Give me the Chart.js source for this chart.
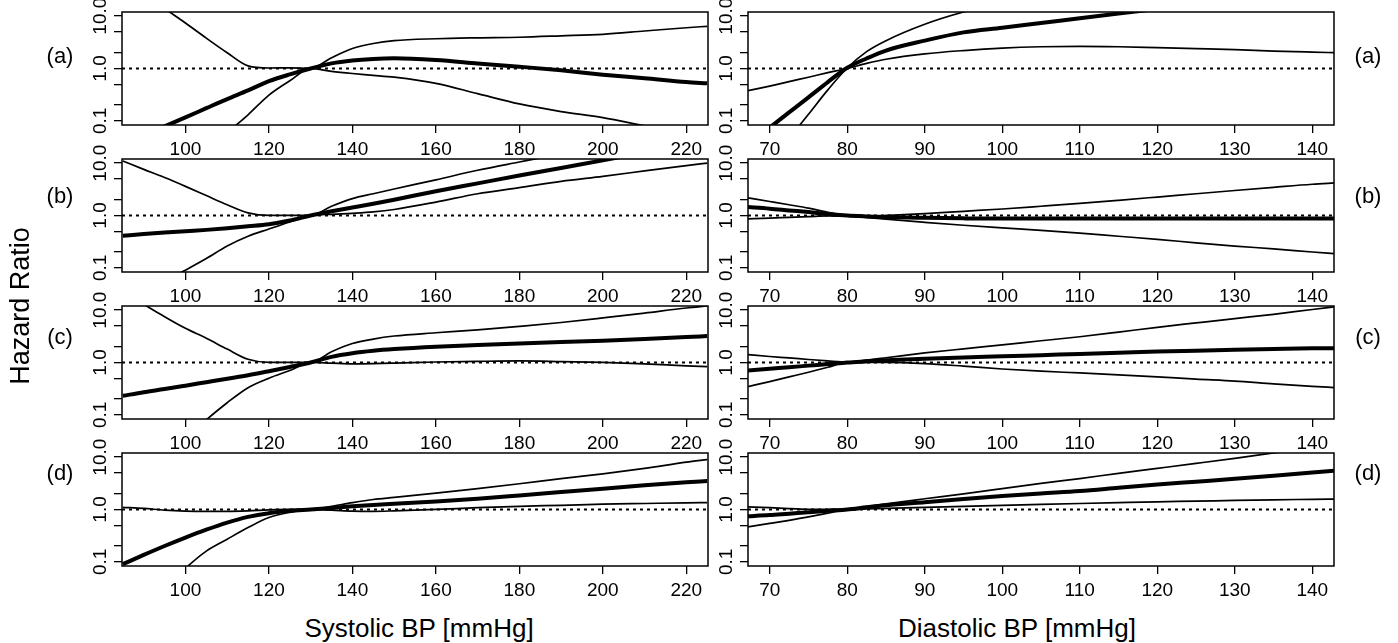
<!DOCTYPE html>
<html>
<head>
<meta charset="utf-8">
<script src="https://cdn.jsdelivr.net/npm/chart.js@4.4.1/dist/chart.umd.min.js"></script>
<style>
  body { margin: 0; background: #fff; }
  #page { position: relative; width: 1398px; height: 643px; overflow: hidden;
          font-family: "Liberation Sans", Arial, sans-serif; color: #000; background: #fff; }
  #page canvas { position: absolute; }
  .lbl { position: absolute; line-height: 1; white-space: nowrap; transform: translate(-50%, -50%); }
  .panel { font-size: 22px; }
  .title { font-size: 26px; }
  .ytitle { font-size: 27px; }
</style>
</head>
<body>
<div id="page"></div>
<script>
// x values (mmHg)
const sysBP = [85, 90, 95, 100, 105, 110, 115, 120, 125, 130, 135, 140, 145, 150, 160, 170, 180, 190, 200, 210, 220, 225];
const diaBP = [67, 70, 72.5, 75, 77.5, 80, 82.5, 85, 90, 95, 100, 105, 110, 115, 120, 125, 130, 135, 140, 143];

const sysTicks = [100, 120, 140, 160, 180, 200, 220];
const diaTicks = [70, 80, 90, 100, 110, 120, 130, 140];
const sysRange = [84.8, 225.2];
const diaRange = [67.2, 142.8];

const hrTicks = [0.1, 0.2, 0.5, 1, 2, 5, 10];
const hrTickText = { 0.1: "0.1", 1: "1.0", 10: "10.0" };
const hrRange = [0.083, 12];
const refHR = 1;

const panelNames = ["(a)", "(b)", "(c)", "(d)"];

// systolic: hazard ratio + two confidence bands per panel
const sysA_hr = [0.035, 0.052, 0.078, 0.116, 0.174, 0.26, 0.38, 0.57, 0.77, 1.0, 1.25, 1.42, 1.52, 1.56, 1.45, 1.25, 1.08, 0.92, 0.76, 0.65, 0.55, 0.52];
const sysA_hi = [52, 27, 14, 7.4, 3.8, 2.0, 1.12, 1.02, 1.03, 1.0, 1.6, 2.4, 3.0, 3.4, 3.7, 3.85, 3.95, 4.2, 4.5, 5.2, 6.0, 6.4];
const sysA_lo = [0.002, 0.004, 0.008, 0.015, 0.03, 0.06, 0.13, 0.31, 0.58, 1.0, 0.88, 0.8, 0.74, 0.68, 0.52, 0.33, 0.21, 0.15, 0.115, 0.08, 0.056, 0.048];

const sysB_hr = [0.41, 0.44, 0.47, 0.5, 0.53, 0.57, 0.62, 0.68, 0.8, 1.0, 1.2, 1.42, 1.68, 2.0, 2.9, 4.1, 5.8, 8.1, 11.3, 16, 22, 26];
const sysB_hi = [11, 7.6, 5.3, 3.6, 2.4, 1.6, 1.12, 1.0, 1.0, 1.0, 1.5, 2.1, 2.6, 3.2, 4.8, 7.3, 10.5, 15, 21, 29, 40, 46];
const sysB_lo = [0.02, 0.035, 0.055, 0.09, 0.15, 0.26, 0.4, 0.55, 0.75, 1.0, 1.05, 1.1, 1.17, 1.3, 1.8, 2.6, 3.4, 4.5, 5.6, 7.1, 9.0, 10];

const sysC_hr = [0.23, 0.27, 0.31, 0.36, 0.42, 0.49, 0.57, 0.68, 0.82, 1.0, 1.28, 1.5, 1.67, 1.8, 2.0, 2.15, 2.3, 2.45, 2.6, 2.8, 3.05, 3.2];
const sysC_hi = [25, 13, 7.5, 4.5, 2.9, 1.8, 1.15, 1.0, 1.0, 1.0, 1.6, 2.3, 2.8, 3.2, 3.7, 4.2, 4.9, 5.8, 7.1, 8.8, 11, 12];
const sysC_lo = [0.004, 0.008, 0.016, 0.035, 0.08, 0.17, 0.33, 0.5, 0.7, 1.0, 0.97, 0.94, 0.95, 0.97, 1.02, 1.05, 1.07, 1.04, 1.0, 0.94, 0.86, 0.83];

const sysD_hr = [0.09, 0.135, 0.2, 0.29, 0.41, 0.56, 0.72, 0.85, 0.94, 1.0, 1.07, 1.15, 1.22, 1.28, 1.42, 1.6, 1.85, 2.15, 2.5, 2.9, 3.3, 3.5];
const sysD_hi = [1.1, 1.05, 0.97, 0.93, 0.92, 0.92, 0.94, 0.98, 1.0, 1.0, 1.15, 1.35, 1.55, 1.7, 2.05, 2.5, 3.1, 3.9, 4.8, 6.1, 8.0, 9.0];
const sysD_lo = [0.005, 0.012, 0.03, 0.075, 0.16, 0.27, 0.45, 0.7, 0.88, 1.0, 0.97, 0.93, 0.92, 0.94, 1.0, 1.08, 1.15, 1.2, 1.26, 1.3, 1.34, 1.35];

// diastolic
const diaA_hr = [0.033, 0.074, 0.145, 0.28, 0.55, 1.03, 1.55, 2.2, 3.4, 4.9, 6.0, 7.4, 9.1, 11.2, 13.8, 17, 21, 26, 32, 36];
const diaA_hi = [0.004, 0.016, 0.046, 0.133, 0.39, 1.02, 2.1, 3.4, 7.0, 12, 18, 25, 33, 42, 52, 63, 75, 88, 100, 110];
const diaA_lo = [0.37, 0.46, 0.56, 0.68, 0.83, 1.0, 1.25, 1.5, 1.9, 2.2, 2.45, 2.6, 2.65, 2.6, 2.5, 2.4, 2.3, 2.15, 2.05, 2.0];

const diaB_hr = [1.45, 1.35, 1.25, 1.16, 1.07, 1.0, 0.96, 0.93, 0.9, 0.88, 0.87, 0.87, 0.87, 0.87, 0.87, 0.87, 0.87, 0.87, 0.87, 0.87];
const diaB_hi = [2.2, 1.85, 1.6, 1.38, 1.15, 1.0, 0.98, 1.0, 1.08, 1.2, 1.33, 1.5, 1.7, 1.95, 2.25, 2.6, 3.0, 3.45, 3.95, 4.2];
const diaB_lo = [0.86, 0.89, 0.92, 0.95, 0.98, 0.97, 0.92, 0.85, 0.74, 0.65, 0.58, 0.52, 0.46, 0.4, 0.35, 0.3, 0.26, 0.23, 0.2, 0.185];

const diaC_hr = [0.7, 0.76, 0.81, 0.87, 0.93, 1.0, 1.05, 1.1, 1.18, 1.25, 1.31, 1.38, 1.45, 1.53, 1.62, 1.68, 1.74, 1.8, 1.86, 1.88];
const diaC_hi = [1.42, 1.3, 1.22, 1.14, 1.07, 1.02, 1.11, 1.23, 1.52, 1.82, 2.17, 2.6, 3.1, 3.8, 4.7, 5.7, 6.9, 8.3, 10.3, 11.6];
const diaC_lo = [0.34, 0.43, 0.53, 0.65, 0.81, 1.0, 1.0, 1.0, 0.95, 0.85, 0.75, 0.68, 0.63, 0.58, 0.53, 0.48, 0.44, 0.39, 0.35, 0.33];

const diaD_hr = [0.74, 0.78, 0.83, 0.88, 0.94, 1.0, 1.1, 1.2, 1.38, 1.58, 1.8, 2.02, 2.25, 2.6, 3.0, 3.4, 3.85, 4.4, 5.1, 5.5];
const diaD_hi = [0.46, 0.54, 0.62, 0.72, 0.85, 1.0, 1.13, 1.28, 1.6, 1.99, 2.5, 3.15, 3.9, 4.9, 6.1, 7.6, 9.5, 12, 15, 17];
const diaD_lo = [1.12, 1.08, 1.04, 1.01, 1.0, 1.0, 1.02, 1.05, 1.1, 1.15, 1.2, 1.25, 1.3, 1.35, 1.4, 1.44, 1.49, 1.53, 1.56, 1.58];

const sysPanels = [[sysA_hr, sysA_hi, sysA_lo], [sysB_hr, sysB_hi, sysB_lo], [sysC_hr, sysC_hi, sysC_lo], [sysD_hr, sysD_hi, sysD_lo]];
const diaPanels = [[diaA_hr, diaA_hi, diaA_lo], [diaB_hr, diaB_hi, diaB_lo], [diaC_hr, diaC_hi, diaC_lo], [diaD_hr, diaD_hi, diaD_lo]];

// layout (page pixels)
const ROW_TOP = [12, 159, 306, 453];
const ROW_H = 113;
const COL_LEFT = [122, 748];
const COL_W = 586;
const Y_AXIS_W = 50, X_AXIS_H = 40, PAD_TOP = 24, PAD_RIGHT = 3;
const LETTER_Y = [56, 196, 337, 473];

Chart.defaults.font.family = '"Liberation Sans", Arial, sans-serif';
Chart.defaults.color = "#000";

const page = document.getElementById("page");

// draws the full box round the plot region
const boxPlugin = {
  id: "box",
  afterDraw(chart) {
    const a = chart.chartArea;
    const ctx = chart.ctx;
    ctx.save();
    ctx.strokeStyle = "#000";
    ctx.lineWidth = 1.5;
    ctx.strokeRect(a.left, a.top, a.right - a.left, a.bottom - a.top);
    ctx.restore();
  }
};

function pts(xs, ys) {
  return xs.map((x, i) => ({ x: x, y: ys[i] }));
}

function makePanel(col, row, xs, series, xRange, xTicks) {
  const cv = document.createElement("canvas");
  const w = Y_AXIS_W + COL_W + PAD_RIGHT;
  const h = PAD_TOP + ROW_H + X_AXIS_H;
  cv.width = w;
  cv.height = h;
  cv.style.left = (COL_LEFT[col] - Y_AXIS_W) + "px";
  cv.style.top = (ROW_TOP[row] - PAD_TOP) + "px";
  page.appendChild(cv);

  const lineStyle = (width) => ({
    borderColor: "#000", borderWidth: width, pointRadius: 0,
    cubicInterpolationMode: "monotone", clip: 0, fill: false
  });

  new Chart(cv, {
    type: "line",
    data: {
      datasets: [
        Object.assign({ data: pts(xRange, [refHR, refHR]), borderDash: [3, 4] }, lineStyle(2)),
        Object.assign({ data: pts(xs, series[1]) }, lineStyle(1.7)),
        Object.assign({ data: pts(xs, series[2]) }, lineStyle(1.7)),
        Object.assign({ data: pts(xs, series[0]) }, lineStyle(4))
      ]
    },
    options: {
      responsive: false,
      animation: false,
      events: [],
      layout: { padding: { top: PAD_TOP, right: PAD_RIGHT, left: 0, bottom: 0 } },
      plugins: { legend: { display: false }, tooltip: { enabled: false } },
      scales: {
        x: {
          type: "linear",
          bounds: "data",
          min: xRange[0],
          max: xRange[1],
          afterBuildTicks: (s) => { s.ticks = xTicks.map((v) => ({ value: v })); },
          afterFit: (s) => {
            s.height = X_AXIS_H;
            s.paddingLeft = s.paddingRight = s.paddingTop = s.paddingBottom = 0;
          },
          ticks: {
            autoSkip: false, maxRotation: 0, minRotation: 0, padding: 5,
            font: { size: 19, lineHeight: 1.2 },
            callback: (v) => String(v)
          },
          grid: { drawOnChartArea: false, drawTicks: true, tickLength: 8, color: "#000", lineWidth: 1.3 },
          border: { display: false }
        },
        y: {
          type: "logarithmic",
          bounds: "data",
          min: hrRange[0],
          max: hrRange[1],
          afterBuildTicks: (s) => { s.ticks = hrTicks.map((v) => ({ value: v })); },
          afterFit: (s) => {
            s.width = Y_AXIS_W;
            s.paddingLeft = s.paddingRight = s.paddingTop = s.paddingBottom = 0;
          },
          ticks: {
            autoSkip: false, minRotation: 90, maxRotation: 90, crossAlign: "center", padding: -5.5,
            font: { size: 19, lineHeight: 1.2 },
            callback: (v) => hrTickText[v] || ""
          },
          grid: { drawOnChartArea: false, drawTicks: true, tickLength: 8, color: "#000", lineWidth: 1.3 },
          border: { display: false }
        }
      }
    },
    plugins: [boxPlugin]
  });
}

function addLabel(text, x, y, cls, rotate) {
  const d = document.createElement("div");
  d.className = "lbl " + cls;
  d.textContent = text;
  d.style.left = x + "px";
  d.style.top = y + "px";
  if (rotate) d.style.transform = "translate(-50%, -50%) rotate(-90deg)";
  page.appendChild(d);
}

for (let r = 0; r < 4; r++) {
  makePanel(0, r, sysBP, sysPanels[r], sysRange, sysTicks);
  makePanel(1, r, diaBP, diaPanels[r], diaRange, diaTicks);
  addLabel(panelNames[r], 60, LETTER_Y[r], "panel");
  addLabel(panelNames[r], 1368, LETTER_Y[r], "panel");
}

addLabel("Hazard Ratio", 20, 306, "ytitle", true);
addLabel("Systolic BP [mmHg]", 419, 628, "title");
addLabel("Diastolic BP [mmHg]", 1017, 628, "title");
</script>
</body>
</html>
